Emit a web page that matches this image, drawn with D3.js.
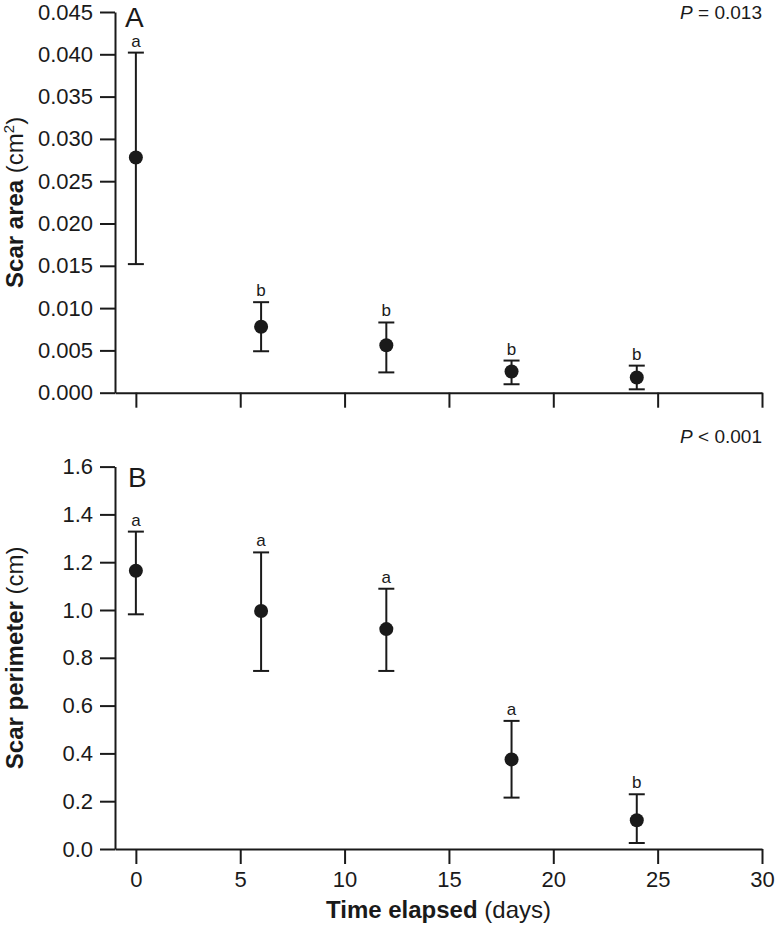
<!DOCTYPE html>
<html>
<head>
<meta charset="utf-8">
<script src="https://cdn.jsdelivr.net/npm/d3@7"></script>
<style>
  body { margin: 0; background: #fff; }
  svg { font-family: "Liberation Sans", Arial, sans-serif; }
  .axis path, .axis line { stroke: #1a1a1a; stroke-width: 2; }
  .axis text { font-size: 22px; fill: #1a1a1a; }
</style>
</head>
<body>
<div id="chart"></div>
<script>
// Data
const days = [0, 6, 12, 18, 24];

const areaMean  = [0.0278, 0.0078, 0.0056, 0.0025, 0.0018];
const areaUpper = [0.0402, 0.0107, 0.0083, 0.0038, 0.0032];
const areaLower = [0.0152, 0.0049, 0.0024, 0.0010, 0.0004];
const areaLetters = ["a", "b", "b", "b", "b"];

const perimMean  = [1.164, 0.996, 0.920, 0.375, 0.120];
const perimUpper = [1.328, 1.241, 1.089, 0.536, 0.229];
const perimLower = [0.982, 0.745, 0.745, 0.215, 0.025];
const perimLetters = ["a", "a", "a", "a", "b"];

const xTicks = [0, 5, 10, 15, 20, 25, 30];
const areaTicks = d3.range(0, 0.0451, 0.005);
const perimTicks = d3.range(0, 1.61, 0.2);

const W = 780, H = 932;
const svg = d3.select("#chart").append("svg")
    .attr("width", W)
    .attr("height", H);

const ink = "#1a1a1a";

// Shared x scale
const x = d3.scaleLinear().domain([-1, 30]).range([115, 762]);

function panel(opts) {
    const y = d3.scaleLinear().domain(opts.domain).range(opts.range);
    const g = svg.append("g");

    // Y axis
    g.append("g")
        .attr("class", "axis")
        .attr("transform", `translate(${x.range()[0]},0)`)
        .call(d3.axisLeft(y)
            .tickValues(opts.yTicks)
            .tickFormat(d3.format(opts.fmt))
            .tickSize(15)
            .tickSizeOuter(0)
            .tickPadding(7));

    // X axis
    const xa = g.append("g")
        .attr("class", "axis")
        .attr("transform", `translate(0,${y(0)})`)
        .call(d3.axisBottom(x)
            .tickValues(xTicks)
            .tickSize(15)
            .tickSizeOuter(0)
            .tickPadding(7));
    if (!opts.xLabels) xa.selectAll("text").remove();

    // error bars
    const pts = days.map((d, i) => ({
        d, m: opts.mean[i], lo: opts.lower[i], hi: opts.upper[i], l: opts.letters[i]
    }));

    const eb = g.selectAll(".eb").data(pts).enter().append("g");
    eb.append("line")
        .attr("x1", p => x(p.d)).attr("x2", p => x(p.d))
        .attr("y1", p => y(p.lo)).attr("y2", p => y(p.hi))
        .attr("stroke", ink).attr("stroke-width", 2);
    eb.append("line")
        .attr("x1", p => x(p.d) - 8).attr("x2", p => x(p.d) + 8)
        .attr("y1", p => y(p.hi)).attr("y2", p => y(p.hi))
        .attr("stroke", ink).attr("stroke-width", 2);
    eb.append("line")
        .attr("x1", p => x(p.d) - 8).attr("x2", p => x(p.d) + 8)
        .attr("y1", p => y(p.lo)).attr("y2", p => y(p.lo))
        .attr("stroke", ink).attr("stroke-width", 2);
    eb.append("circle")
        .attr("cx", p => x(p.d)).attr("cy", p => y(p.m))
        .attr("r", 7)
        .attr("fill", ink);
    eb.append("text")
        .attr("x", p => x(p.d)).attr("y", p => y(p.hi) - 6)
        .attr("text-anchor", "middle")
        .attr("font-size", 17)
        .attr("fill", ink)
        .text(p => p.l);

    // panel letter
    g.append("text")
        .attr("x", opts.letterX).attr("y", opts.letterY)
        .attr("font-size", 28)
        .attr("fill", ink)
        .text(opts.letter);

    // P value
    const pt = g.append("text")
        .attr("x", 762).attr("y", opts.pY)
        .attr("text-anchor", "end")
        .attr("font-size", 19)
        .attr("fill", ink);
    pt.append("tspan").attr("font-style", "italic").text("P");
    pt.append("tspan").text(opts.pText);

    // Y title
    const cy = (opts.range[0] + opts.range[1]) / 2;
    const yt = g.append("text")
        .attr("transform", `translate(23,${cy}) rotate(-90)`)
        .attr("text-anchor", "middle")
        .attr("font-size", 24)
        .attr("fill", ink);
    opts.yTitle(yt);

    return y;
}

panel({
    domain: [0, 0.045], range: [392.7, 12],
    yTicks: areaTicks, fmt: ".3f", xLabels: false,
    mean: areaMean, upper: areaUpper, lower: areaLower, letters: areaLetters,
    letter: "A", letterX: 125, letterY: 27, pY: 19, pText: " = 0.013",
    yTitle: t => {
        t.append("tspan").attr("font-weight", "bold").text("Scar area");
        t.append("tspan").text(" (cm");
        t.append("tspan").attr("font-size", 15).attr("dy", -9).text("2");
        t.append("tspan").attr("dy", 9).text(")");
    }
});

panel({
    domain: [0, 1.6], range: [849, 466.6],
    yTicks: perimTicks, fmt: ".1f", xLabels: true,
    mean: perimMean, upper: perimUpper, lower: perimLower, letters: perimLetters,
    letter: "B", letterX: 128, letterY: 487, pY: 443, pText: " < 0.001",
    yTitle: t => {
        t.append("tspan").attr("font-weight", "bold").text("Scar perimeter");
        t.append("tspan").text(" (cm)");
    }
});

// X title
const xt = svg.append("text")
    .attr("x", (x.range()[0] + x.range()[1]) / 2)
    .attr("y", 918)
    .attr("text-anchor", "middle")
    .attr("font-size", 24)
    .attr("fill", ink);
xt.append("tspan").attr("font-weight", "bold").text("Time elapsed");
xt.append("tspan").text(" (days)");
</script>
</body>
</html>
